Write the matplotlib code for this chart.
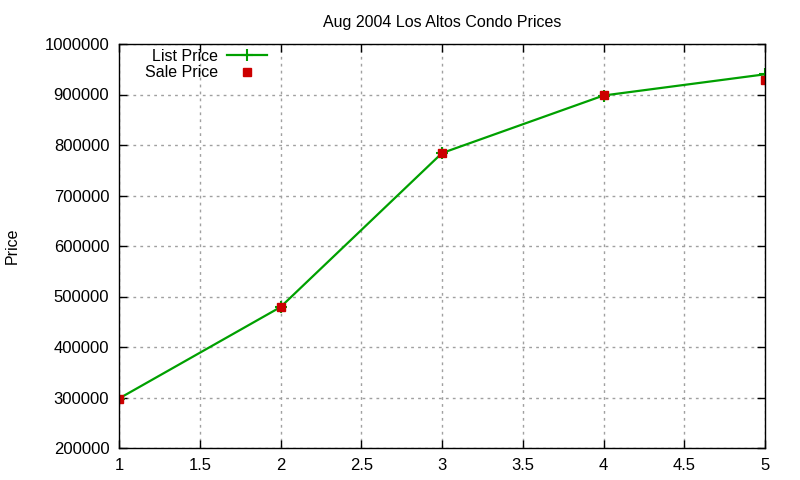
import matplotlib.pyplot as plt
from matplotlib.ticker import FuncFormatter

# Data
bedrooms = [1, 2, 3, 4, 5]
list_price = [298000, 479000, 784000, 898000, 940000]
sale_price = [297000, 479000, 785000, 899000, 928000]

x_ticks = [1, 1.5, 2, 2.5, 3, 3.5, 4, 4.5, 5]
y_ticks = [200000, 300000, 400000, 500000, 600000, 700000, 800000, 900000, 1000000]

plt.rcParams['font.family'] = ['Liberation Sans', 'DejaVu Sans']
plt.rcParams['font.size'] = 11.5

fig = plt.figure(figsize=(8, 4.8), dpi=100)
ax = fig.add_axes([119 / 800, 1 - 448 / 480, (765 - 119) / 800, (448 - 44) / 480])

ax.plot(bedrooms, list_price, color='#00a000', lw=1.6, marker='+',
        markersize=8, markeredgewidth=1.5, label='List Price')
ax.plot(bedrooms, sale_price, color='#cc0000', lw=0, marker='s',
        markersize=6, label='Sale Price')

ax.set_xlim(1, 5)
ax.set_ylim(200000, 1000000)
ax.set_xticks(x_ticks)
ax.set_yticks(y_ticks)
ax.xaxis.set_major_formatter(FuncFormatter(lambda v, p: f"{v:g}"))
ax.yaxis.set_major_formatter(FuncFormatter(lambda v, p: f"{int(v)}"))
ax.tick_params(direction='in', top=True, right=True, length=6, width=1,
               pad=7, labelsize=12)

ax.grid(True, color='#a0a0a0', linestyle=(0, (2, 3)), linewidth=1)
for s in ax.spines.values():
    s.set_linewidth(1)

ax.set_title('Aug 2004 Los Altos Condo Prices', fontsize=11.5, pad=12)
fig.text(12 / 800, 1 - 246 / 480, 'Price', rotation=90, ha='center', va='center')

ax.legend(loc='upper left', bbox_to_anchor=(0.02, 1.02), frameon=False,
          markerfirst=False, handlelength=2.5, borderpad=0.3, labelspacing=0.1,
          handletextpad=0.6, fontsize=11.5)

fig.savefig('out.png', dpi=100)
